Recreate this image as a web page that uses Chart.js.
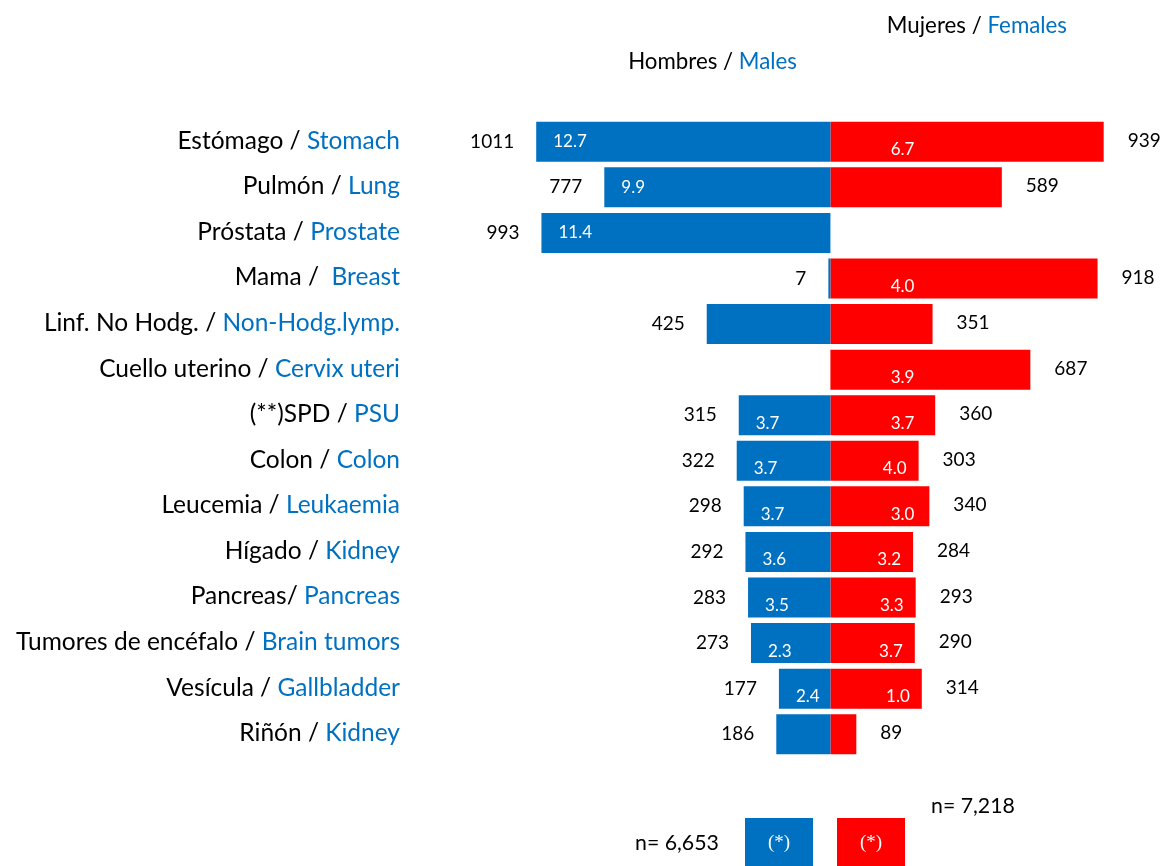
<!DOCTYPE html>
<html>
<head>
<meta charset="utf-8">
<script src="https://cdn.jsdelivr.net/npm/chart.js@4"></script>
<style>
  body { margin: 0; background: #fff; }
  #wrap { width: 1168px; height: 866px; }
</style>
</head>
<body>
<div id="wrap"><canvas id="myChart" width="1168" height="866"></canvas></div>
<script>
// categories, spanish part (with its separator) and english part
let labelsEs = ['Estómago / ', 'Pulmón / ', 'Próstata / ', 'Mama /  ', 'Linf. No Hodg. / ',
  'Cuello uterino / ', '(**)SPD / ', 'Colon / ', 'Leucemia / ', 'Hígado / ', 'Pancreas/ ',
  'Tumores de encéfalo / ', 'Vesícula / ', 'Riñón / '];
let labelsEn = ['Stomach', 'Lung', 'Prostate', 'Breast', 'Non-Hodg.lymp.', 'Cervix uteri', 'PSU',
  'Colon', 'Leukaemia', 'Kidney', 'Pancreas', 'Brain tumors', 'Gallbladder', 'Kidney'];

// number of cases
let maleCases = [1011, 777, 993, 7, 425, null, 315, 322, 298, 292, 283, 273, 177, 186];
let femaleCases = [939, 589, null, 918, 351, 687, 360, 303, 340, 284, 293, 290, 314, 89];

// rates printed inside the bars
let maleRates = [12.7, 9.9, 11.4, null, null, null, 3.7, 3.7, 3.7, 3.6, 3.5, 2.3, 2.4, null];
let femaleRates = [6.7, null, null, 4.0, null, 3.9, 3.7, 4.0, 3.0, 3.2, 3.3, 3.7, 1.0, null];

let maleTotal = 'n= 6,653';
let femaleTotal = 'n= 7,218';

const BLUE = '#0070C0';
const RED = '#FF0000';
const FONT = 'Lato, "Open Sans", sans-serif';

let textPlugin = {
  id: 'textPlugin',
  afterDraw(chart) {
    let ctx = chart.ctx;
    let y = chart.scales.y;
    let x = chart.scales.x;
    let zero = x.getPixelForValue(0);
    let mMeta = chart.getDatasetMeta(0);
    let fMeta = chart.getDatasetMeta(1);
    ctx.save();
    ctx.textBaseline = 'middle';

    // category labels, two colours
    ctx.font = '24.5px ' + FONT;
    labelsEs.forEach((es, i) => {
      let cy = y.getPixelForValue(i) - 1;
      ctx.textAlign = 'right';
      ctx.fillStyle = BLUE;
      ctx.fillText(labelsEn[i], 400, cy);
      let w = ctx.measureText(labelsEn[i]).width;
      ctx.fillStyle = '#000';
      ctx.fillText(es, 400 - w, cy);
    });

    // counts outside the bars
    ctx.font = '19px ' + FONT;
    ctx.fillStyle = '#000';
    maleCases.forEach((v, i) => {
      if (v == null) return;
      let bar = mMeta.data[i];
      ctx.textAlign = 'right';
      ctx.fillText(String(v), bar.x - 22, bar.y);
    });
    femaleCases.forEach((v, i) => {
      if (v == null) return;
      let bar = fMeta.data[i];
      ctx.textAlign = 'left';
      ctx.fillText(String(v), bar.x + 24, bar.y - 1);
    });

    // rates inside the bars
    ctx.font = '17px ' + FONT;
    ctx.fillStyle = '#fff';
    maleRates.forEach((v, i) => {
      if (v == null) return;
      let bar = mMeta.data[i];
      ctx.textAlign = 'left';
      ctx.fillText(v.toFixed(1), bar.x + 17, bar.y + (i < 3 ? 0 : 8));
    });
    femaleRates.forEach((v, i) => {
      if (v == null) return;
      let bar = fMeta.data[i];
      ctx.textAlign = 'right';
      let px = Math.min(zero + 84, bar.x - 12);
      ctx.fillText(v.toFixed(1), px, bar.y + 8);
    });

    // headers
    ctx.font = '22.3px ' + FONT;
    let drawPair = (a, b, right, cy) => {
      ctx.textAlign = 'right';
      ctx.fillStyle = BLUE;
      ctx.fillText(b, right, cy);
      let w = ctx.measureText(b).width;
      ctx.fillStyle = '#000';
      ctx.fillText(a, right - w, cy);
    };
    drawPair('Mujeres / ', 'Females', 1067, 26);
    drawPair('Hombres / ', 'Males', 797, 62);

    // footer: totals and (*) boxes
    ctx.fillStyle = BLUE;
    ctx.fillRect(745, 818, 68, 48);
    ctx.fillStyle = RED;
    ctx.fillRect(837, 818, 68, 48);
    ctx.font = '19px "Liberation Serif", serif';
    ctx.fillStyle = '#fff';
    ctx.textAlign = 'center';
    ctx.fillText('(*)', 779, 843);
    ctx.fillText('(*)', 871, 843);
    ctx.font = '21.3px ' + FONT;
    ctx.fillStyle = '#000';
    ctx.textAlign = 'left';
    ctx.fillText(maleTotal, 635, 843);
    ctx.fillText(femaleTotal, 931, 806);
    ctx.restore();
  }
};

let ctx = document.getElementById('myChart').getContext('2d');
window.chart = new Chart(ctx, {
  type: 'bar',
  data: {
    labels: labelsEn,
    datasets: [{
      label: 'Males',
      backgroundColor: BLUE,
      data: maleCases.map(v => v == null ? null : -v)
    }, {
      label: 'Females',
      backgroundColor: RED,
      data: femaleCases
    }]
  },
  options: {
    indexAxis: 'y',
    responsive: false,
    animation: false,
    layout: { padding: { left: 423, right: 0, top: 119, bottom: 109 } },
    datasets: { bar: { barPercentage: 0.878, categoryPercentage: 1 } },
    plugins: { legend: { display: false }, tooltip: { enabled: false } },
    scales: {
      x: { stacked: true, min: -1400, max: 1160, display: false },
      y: { stacked: true, display: false }
    }
  },
  plugins: [textPlugin]
});
</script>
</body>
</html>
